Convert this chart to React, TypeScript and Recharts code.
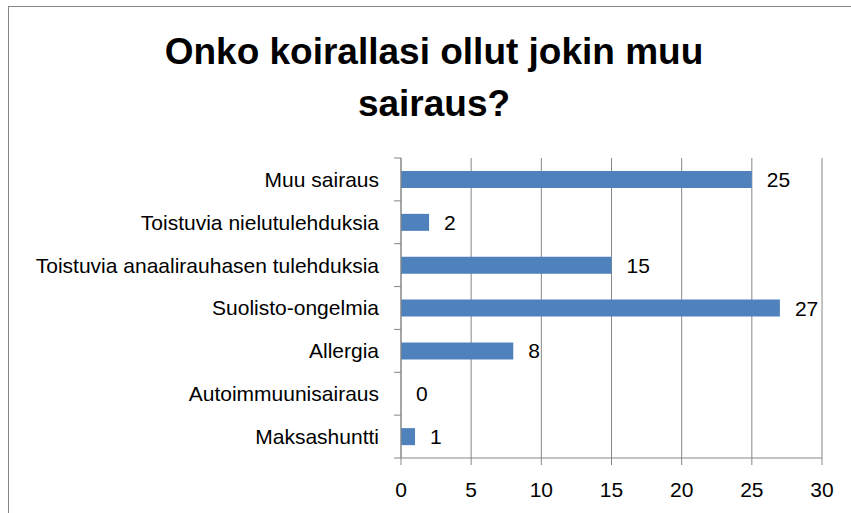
import React from 'react';
import { BarChart, Bar, XAxis, YAxis, CartesianGrid, LabelList } from 'recharts';

const categories = [
  'Muu sairaus',
  'Toistuvia nielutulehduksia',
  'Toistuvia anaalirauhasen tulehduksia',
  'Suolisto-ongelmia',
  'Allergia',
  'Autoimmuunisairaus',
  'Maksashuntti',
];
const values = [25, 2, 15, 27, 8, 0, 1];
const xTicks = [0, 5, 10, 15, 20, 25, 30];
const titleLines = ['Onko koirallasi ollut jokin muu', 'sairaus?'];

const data = categories.map((name, i) => ({ name, value: values[i] }));

const FONT = '"Liberation Sans", Arial, sans-serif';
const GRID = '#878787';
const Y_TICK_SIZE = 7;
const Y_TICK_GAP = 15;

function CategoryTick(props: any) {
  const { x, y, payload, index, visibleTicksCount } = props;
  const half = payload && typeof payload.offset === 'number' ? payload.offset : 0;
  const axisX = x + Y_TICK_SIZE + Y_TICK_GAP;
  const isLast = index === visibleTicksCount - 1;
  return (
    <g>
      <line x1={axisX - Y_TICK_SIZE} x2={axisX} y1={y - half} y2={y - half} stroke={GRID} />
      {isLast && <line x1={axisX - Y_TICK_SIZE} x2={axisX} y1={y + half} y2={y + half} stroke={GRID} />}
      <text x={x} y={y} dy="0.355em" textAnchor="end" fill="#000" fontSize={21} fontFamily={FONT}>
        {payload.value}
      </text>
    </g>
  );
}

export default function App() {
  return (
    <div style={{ position: 'fixed', left: 0, top: 0, width: 851, height: 513, overflow: 'hidden', background: '#fff' }}>
      <div
        style={{
          position: 'absolute',
          left: 8,
          top: 6,
          width: 900,
          height: 600,
          border: `1px solid ${GRID}`,
          boxSizing: 'border-box',
        }}
      />
      <svg style={{ position: 'absolute', left: 0, top: 0 }} width={851} height={130}>
        <text x={434} y={63.5} textAnchor="middle" fontFamily={FONT} fontWeight="bold" fontSize={37} fill="#000">
          {titleLines[0]}
        </text>
        <text x={434} y={116} textAnchor="middle" fontFamily={FONT} fontWeight="bold" fontSize={37} fill="#000">
          {titleLines[1]}
        </text>
      </svg>
      <div style={{ position: 'absolute', left: 0, top: 0 }}>
        <BarChart
          width={851}
          height={513}
          data={data}
          layout="vertical"
          margin={{ top: 158, right: 29, bottom: 25, left: 11 }}
          barCategoryGap={0}
        >
          <CartesianGrid horizontal={false} vertical stroke={GRID} strokeWidth={1} />
          <XAxis
            type="number"
            domain={[0, 30]}
            ticks={xTicks}
            interval={0}
            height={30}
            tickSize={7}
            tickMargin={17}
            stroke={GRID}
            axisLine={{ stroke: GRID }}
            tickLine={{ stroke: GRID }}
            tick={{ fill: '#000', fontSize: 21, fontFamily: FONT }}
          />
          <YAxis
            type="category"
            dataKey="name"
            width={390}
            interval={0}
            tickSize={Y_TICK_SIZE}
            tickMargin={Y_TICK_GAP}
            axisLine={{ stroke: GRID }}
            tickLine={false}
            tick={<CategoryTick />}
          />
          <Bar dataKey="value" fill="#4F81BD" barSize={17} minPointSize={0.01} isAnimationActive={false}>
            <LabelList dataKey="value" position="right" offset={15} fill="#000" fontSize={21} fontFamily={FONT} />
          </Bar>
        </BarChart>
      </div>
    </div>
  );
}
